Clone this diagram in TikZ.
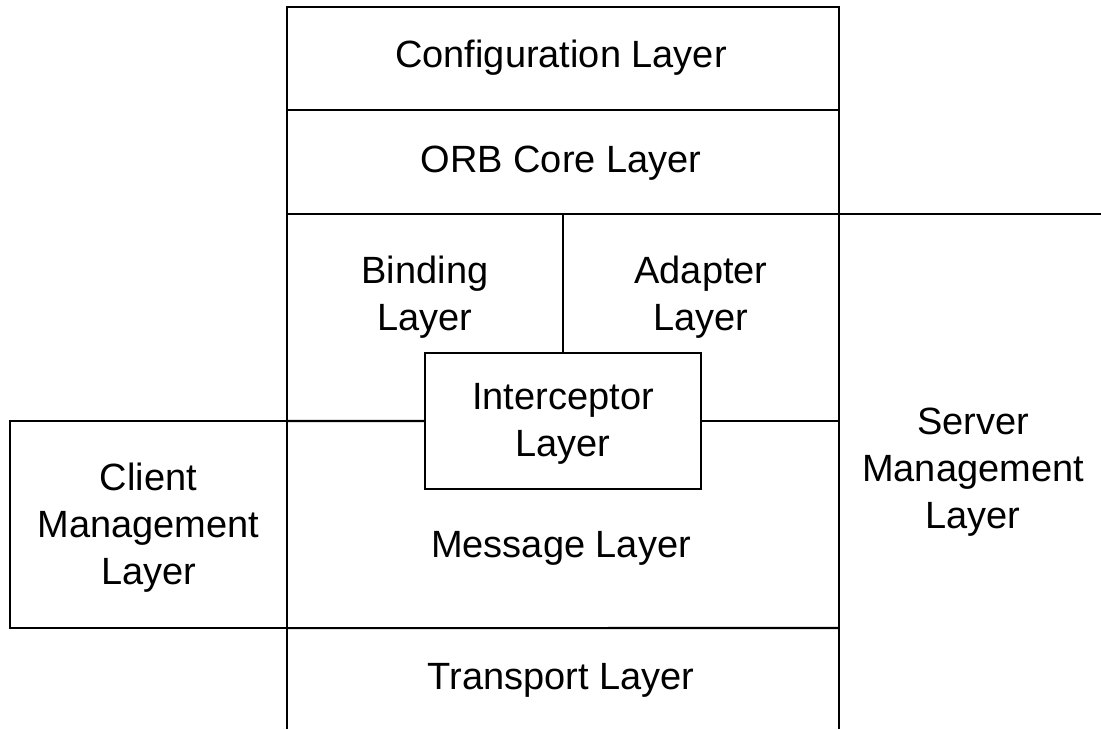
\documentclass[tikz,border=0pt]{standalone}
\usepackage{fontspec}
\setmainfont{Liberation Sans}
\usetikzlibrary{positioning}

\tikzset{
  layer/.style={align=center, font=\fontsize{10.8}{13.4}\selectfont},
  layerbox/.style={layer, draw, line width=0.6pt, inner sep=0pt, outer sep=0pt}
}

\begin{document}
\begin{tikzpicture}[x=0.01cm, y=-0.01cm, line width=0.6pt]
	\useasboundingbox (0,0) rectangle (1101,729);
	% outer column and horizontal cuts
	\draw (287,729) -- (287,7) -- (839,7) -- (839,729);
	\draw (287,110) -- (839,110);
	\draw (287,214) -- (1101,214);
	\draw (563,214) -- (563,353);
	% boxes
	\node[layerbox, minimum width=2.76cm, minimum height=1.36cm] (icpt) at (563,421) {};
	\node[layerbox, minimum width=2.77cm, minimum height=2.07cm] (client) at (148.5,524.5) {};
	\draw (client.north east) -- (icpt.west);
	\draw (icpt.east) -- (839,421);
	\draw (client.south east) -- (839,628);
	% labels
	\node[layer] (config) at (561,58) {Configuration Layer};
	\node[layer] (orb) at (561,163) {ORB Core Layer};
	\node[layer] (binding) at (425,297) {Binding\\Layer};
	\node[layer] (adapter) at (701,297) {Adapter\\Layer};
	\node[layer] at ([yshift=-0.03cm]icpt) {Interceptor\\Layer};
	\node[layer] at ([yshift=-0.03cm]client) {Client\\Management\\Layer};
	\node[layer] (message) at (561,548) {Message Layer};
	\node[layer] (transport) at (561,680) {Transport Layer};
	\node[layer] (server) at (973,472) {Server\\Management\\Layer};
\end{tikzpicture}
\end{document}
